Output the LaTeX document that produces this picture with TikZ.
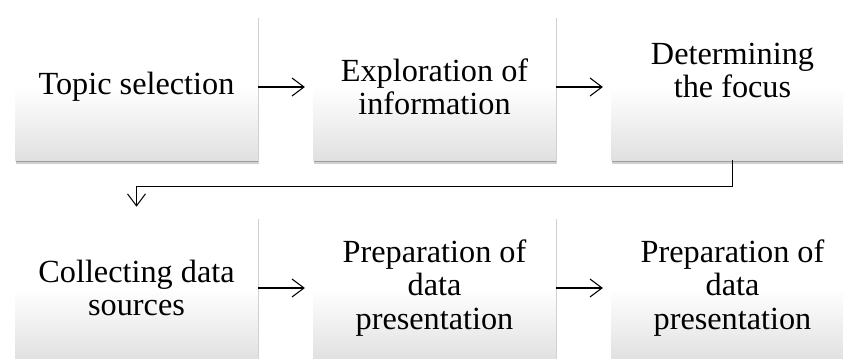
\documentclass[tikz,border=0pt]{standalone}
\usepackage{fontspec}
\setmainfont{Liberation Serif}
\usetikzlibrary{arrows.meta,shadows}

\pgfdeclareverticalshading{boxfade}{100bp}{color(0bp)=(black!12); color(25bp)=(black!12);
  color(50bp)=(white); color(100bp)=(white)}

\tikzset{
  stepbox/.style={rectangle, minimum width=182pt, minimum height=109.5pt,
    inner sep=0pt, align=center, font=\fontsize{24.2}{25}\selectfont,
    shading=boxfade,
    drop shadow={shadow xshift=0.6pt, shadow yshift=-3pt, opacity=0.18, fill=black},
    drop shadow={shadow xshift=0.3pt, shadow yshift=-1.5pt, opacity=0.25, fill=black}},
  flow/.style={draw, line width=0.8pt, -{Straight Barb[length=9pt,width=13.5pt,line width=0.8pt]},
    shorten >=6pt}
}

\begin{document}
\begin{tikzpicture}[x=0.75pt, y=-0.75pt]
      \useasboundingbox (0,0) rectangle (843,358);
      % Draw the first row
      \node[stepbox] (topic) at (136.5, 87) {Topic selection};
      \node[stepbox] (explore) at (434.5, 87) {Exploration of\\information};
      \node[stepbox] (focus) at (732.5, 87) {Determining\\the focus\\\phantom{x}};
      % Draw the second row
      \node[stepbox] (collect) at (136.5, 288) {Collecting data\\sources};
      \node[stepbox] (prepA) at (434.5, 288) {Preparation of\\data\\presentation};
      \node[stepbox] (prepB) at (732.5, 288) {Preparation of\\data\\presentation};
      % Draw the arrows
      \draw[flow] (topic) -- (explore);
      \draw[flow] (explore) -- (focus);
      \draw[flow] (focus.south) -- ++(0, 26) -| (collect.north);
      \draw[flow] (collect) -- (prepA);
      \draw[flow] (prepA) -- (prepB);
    \end{tikzpicture}
\end{document}
